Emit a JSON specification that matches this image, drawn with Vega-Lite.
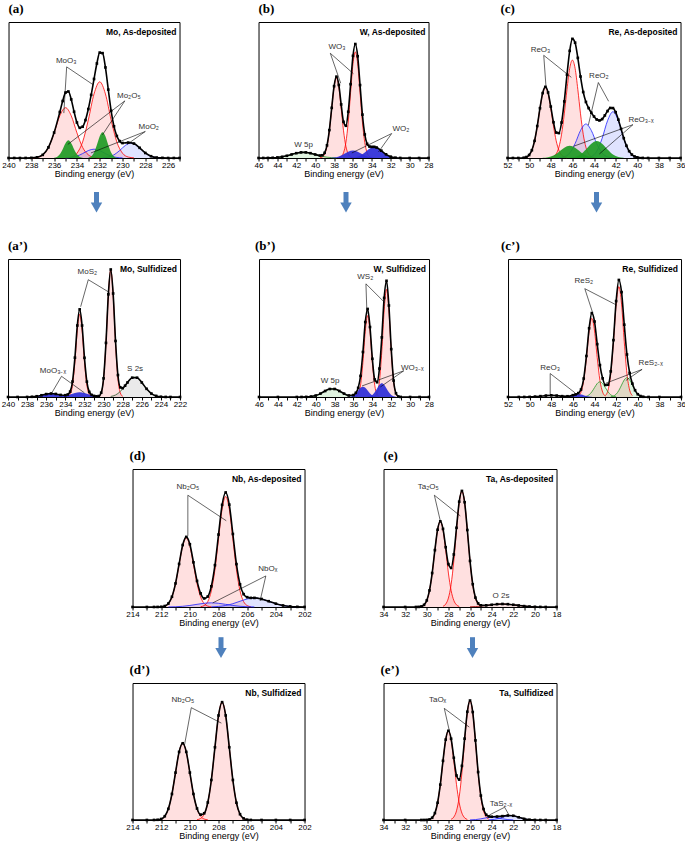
{
"$schema": "https://vega.github.io/schema/vega-lite/v6.json",
"padding": {"top": 2, "left": 0, "right": 0, "bottom": 0},
"spacing": 5,
"center": true,
"datasets": {
"env": [
{"p":"a","x":240,"y":0},{"p":"a","x":239.5,"y":0},{"p":"a","x":239,"y":0},{"p":"a","x":238.5,"y":0.0002},{"p":"a","x":238,"y":0.001},{"p":"a","x":237.5,"y":0.005},{"p":"a","x":237,"y":0.023},{"p":"a","x":236.5,"y":0.078},{"p":"a","x":236,"y":0.187},{"p":"a","x":235.5,"y":0.338},{"p":"a","x":235.25,"y":0.419},{"p":"a","x":235,"y":0.481},{"p":"a","x":234.75,"y":0.489},{"p":"a","x":234.5,"y":0.431},{"p":"a","x":234.25,"y":0.34},{"p":"a","x":234,"y":0.261},{"p":"a","x":233.75,"y":0.222},{"p":"a","x":233.5,"y":0.23},{"p":"a","x":233.25,"y":0.279},{"p":"a","x":233,"y":0.36},{"p":"a","x":232.75,"y":0.464},{"p":"a","x":232.5,"y":0.581},{"p":"a","x":232.25,"y":0.695},{"p":"a","x":232,"y":0.775},{"p":"a","x":231.75,"y":0.771},{"p":"a","x":231.5,"y":0.666},{"p":"a","x":231.25,"y":0.503},{"p":"a","x":231,"y":0.347},{"p":"a","x":230.75,"y":0.233},{"p":"a","x":230.5,"y":0.162},{"p":"a","x":230.25,"y":0.124},{"p":"a","x":230,"y":0.11},{"p":"a","x":229.5,"y":0.113},{"p":"a","x":229,"y":0.106},{"p":"a","x":228.5,"y":0.075},{"p":"a","x":228,"y":0.037},{"p":"a","x":227.5,"y":0.013},{"p":"a","x":227,"y":0.003},{"p":"a","x":226.5,"y":0.001},{"p":"a","x":226,"y":0},{"p":"a","x":225.5,"y":0},{"p":"a","x":225,"y":0},
{"p":"b","x":46,"y":0},{"p":"b","x":45.5,"y":0.0002},{"p":"b","x":45,"y":0.0006},{"p":"b","x":44.5,"y":0.0016},{"p":"b","x":44,"y":0.0041},{"p":"b","x":43.5,"y":0.0088},{"p":"b","x":43,"y":0.0163},{"p":"b","x":42.5,"y":0.026},{"p":"b","x":42,"y":0.0353},{"p":"b","x":41.5,"y":0.0412},{"p":"b","x":41,"y":0.0412},{"p":"b","x":40.5,"y":0.0353},{"p":"b","x":40,"y":0.026},{"p":"b","x":39.5,"y":0.018},{"p":"b","x":39.25,"y":0.02},{"p":"b","x":39,"y":0.038},{"p":"b","x":38.75,"y":0.093},{"p":"b","x":38.5,"y":0.205},{"p":"b","x":38.25,"y":0.369},{"p":"b","x":38,"y":0.528},{"p":"b","x":37.75,"y":0.598},{"p":"b","x":37.5,"y":0.537},{"p":"b","x":37.25,"y":0.394},{"p":"b","x":37,"y":0.266},{"p":"b","x":36.75,"y":0.237},{"p":"b","x":36.5,"y":0.34},{"p":"b","x":36.25,"y":0.543},{"p":"b","x":36,"y":0.751},{"p":"b","x":35.75,"y":0.838},{"p":"b","x":35.5,"y":0.748},{"p":"b","x":35.25,"y":0.536},{"p":"b","x":35,"y":0.319},{"p":"b","x":34.75,"y":0.173},{"p":"b","x":34.5,"y":0.104},{"p":"b","x":34.25,"y":0.084},{"p":"b","x":34,"y":0.082},{"p":"b","x":33.75,"y":0.082},{"p":"b","x":33.5,"y":0.077},{"p":"b","x":33,"y":0.054},{"p":"b","x":32.5,"y":0.027},{"p":"b","x":32,"y":0.0096},{"p":"b","x":31.5,"y":0.0024},{"p":"b","x":31,"y":0.0004},{"p":"b","x":30,"y":0},{"p":"b","x":29,"y":0},{"p":"b","x":28,"y":0},
{"p":"c","x":52,"y":0},{"p":"c","x":51.5,"y":0},{"p":"c","x":51,"y":0.0001},{"p":"c","x":50.5,"y":0.002},{"p":"c","x":50.25,"y":0.007},{"p":"c","x":50,"y":0.022},{"p":"c","x":49.75,"y":0.057},{"p":"c","x":49.5,"y":0.126},{"p":"c","x":49.25,"y":0.235},{"p":"c","x":49,"y":0.366},{"p":"c","x":48.75,"y":0.477},{"p":"c","x":48.5,"y":0.523},{"p":"c","x":48.25,"y":0.482},{"p":"c","x":48,"y":0.378},{"p":"c","x":47.75,"y":0.263},{"p":"c","x":47.5,"y":0.187},{"p":"c","x":47.25,"y":0.183},{"p":"c","x":47,"y":0.261},{"p":"c","x":46.75,"y":0.416},{"p":"c","x":46.5,"y":0.612},{"p":"c","x":46.25,"y":0.788},{"p":"c","x":46,"y":0.876},{"p":"c","x":45.75,"y":0.848},{"p":"c","x":45.5,"y":0.736},{"p":"c","x":45.25,"y":0.599},{"p":"c","x":45,"y":0.485},{"p":"c","x":44.75,"y":0.412},{"p":"c","x":44.5,"y":0.367},{"p":"c","x":44.25,"y":0.333},{"p":"c","x":44,"y":0.305},{"p":"c","x":43.75,"y":0.283},{"p":"c","x":43.5,"y":0.276},{"p":"c","x":43.25,"y":0.286},{"p":"c","x":43,"y":0.313},{"p":"c","x":42.75,"y":0.345},{"p":"c","x":42.5,"y":0.368},{"p":"c","x":42.25,"y":0.367},{"p":"c","x":42,"y":0.337},{"p":"c","x":41.75,"y":0.282},{"p":"c","x":41.5,"y":0.214},{"p":"c","x":41.25,"y":0.146},{"p":"c","x":41,"y":0.09},{"p":"c","x":40.75,"y":0.05},{"p":"c","x":40.5,"y":0.025},{"p":"c","x":40.25,"y":0.011},{"p":"c","x":40,"y":0.0045},{"p":"c","x":39.5,"y":0.0005},{"p":"c","x":39,"y":0},{"p":"c","x":38,"y":0},{"p":"c","x":37,"y":0},{"p":"c","x":36,"y":0},
{"p":"a2","x":240,"y":0},{"p":"a2","x":239,"y":0},{"p":"a2","x":238,"y":0.0003},{"p":"a2","x":237.5,"y":0.0016},{"p":"a2","x":237,"y":0.0053},{"p":"a2","x":236.5,"y":0.0125},{"p":"a2","x":236,"y":0.021},{"p":"a2","x":235.5,"y":0.025},{"p":"a2","x":235,"y":0.022},{"p":"a2","x":234.5,"y":0.015},{"p":"a2","x":234,"y":0.013},{"p":"a2","x":233.75,"y":0.018},{"p":"a2","x":233.5,"y":0.039},{"p":"a2","x":233.25,"y":0.112},{"p":"a2","x":233,"y":0.285},{"p":"a2","x":232.75,"y":0.518},{"p":"a2","x":232.5,"y":0.635},{"p":"a2","x":232.25,"y":0.518},{"p":"a2","x":232,"y":0.284},{"p":"a2","x":231.75,"y":0.111},{"p":"a2","x":231.5,"y":0.037},{"p":"a2","x":231.25,"y":0.015},{"p":"a2","x":231,"y":0.008},{"p":"a2","x":230.75,"y":0.005},{"p":"a2","x":230.5,"y":0.007},{"p":"a2","x":230.25,"y":0.031},{"p":"a2","x":230,"y":0.135},{"p":"a2","x":229.75,"y":0.392},{"p":"a2","x":229.5,"y":0.744},{"p":"a2","x":229.25,"y":0.924},{"p":"a2","x":229,"y":0.75},{"p":"a2","x":228.75,"y":0.406},{"p":"a2","x":228.5,"y":0.159},{"p":"a2","x":228.25,"y":0.07},{"p":"a2","x":228,"y":0.064},{"p":"a2","x":227.75,"y":0.082},{"p":"a2","x":227.5,"y":0.105},{"p":"a2","x":227,"y":0.14},{"p":"a2","x":226.5,"y":0.14},{"p":"a2","x":226,"y":0.105},{"p":"a2","x":225.5,"y":0.0593},{"p":"a2","x":225,"y":0.0251},{"p":"a2","x":224.5,"y":0.008},{"p":"a2","x":224,"y":0.0019},{"p":"a2","x":223.5,"y":0.0004},{"p":"a2","x":223,"y":0},{"p":"a2","x":222,"y":0},
{"p":"b2","x":46,"y":0},{"p":"b2","x":44,"y":0},{"p":"b2","x":42,"y":0},{"p":"b2","x":41.5,"y":0.0001},{"p":"b2","x":41,"y":0.0008},{"p":"b2","x":40.5,"y":0.0033},{"p":"b2","x":40,"y":0.0104},{"p":"b2","x":39.5,"y":0.0245},{"p":"b2","x":39,"y":0.0435},{"p":"b2","x":38.5,"y":0.0579},{"p":"b2","x":38,"y":0.0579},{"p":"b2","x":37.5,"y":0.0435},{"p":"b2","x":37,"y":0.0245},{"p":"b2","x":36.5,"y":0.011},{"p":"b2","x":36,"y":0.014},{"p":"b2","x":35.75,"y":0.03},{"p":"b2","x":35.5,"y":0.066},{"p":"b2","x":35.25,"y":0.153},{"p":"b2","x":35,"y":0.326},{"p":"b2","x":34.75,"y":0.543},{"p":"b2","x":34.5,"y":0.638},{"p":"b2","x":34.25,"y":0.507},{"p":"b2","x":34,"y":0.277},{"p":"b2","x":33.75,"y":0.127},{"p":"b2","x":33.5,"y":0.107},{"p":"b2","x":33.25,"y":0.206},{"p":"b2","x":33,"y":0.432},{"p":"b2","x":32.75,"y":0.718},{"p":"b2","x":32.5,"y":0.842},{"p":"b2","x":32.25,"y":0.663},{"p":"b2","x":32,"y":0.347},{"p":"b2","x":31.75,"y":0.119},{"p":"b2","x":31.5,"y":0.027},{"p":"b2","x":31.25,"y":0.004},{"p":"b2","x":31,"y":0.0004},{"p":"b2","x":30,"y":0},{"p":"b2","x":29,"y":0},{"p":"b2","x":28,"y":0},
{"p":"c2","x":52,"y":0},{"p":"c2","x":51,"y":0},{"p":"c2","x":50.5,"y":0.0002},{"p":"c2","x":50,"y":0.0008},{"p":"c2","x":49.5,"y":0.0025},{"p":"c2","x":49,"y":0.006},{"p":"c2","x":48.5,"y":0.0101},{"p":"c2","x":48,"y":0.012},{"p":"c2","x":47.5,"y":0.0101},{"p":"c2","x":47,"y":0.006},{"p":"c2","x":46.5,"y":0.0054},{"p":"c2","x":46,"y":0.013},{"p":"c2","x":45.75,"y":0.019},{"p":"c2","x":45.5,"y":0.028},{"p":"c2","x":45.25,"y":0.054},{"p":"c2","x":45,"y":0.134},{"p":"c2","x":44.75,"y":0.297},{"p":"c2","x":44.5,"y":0.498},{"p":"c2","x":44.25,"y":0.608},{"p":"c2","x":44,"y":0.547},{"p":"c2","x":43.75,"y":0.383},{"p":"c2","x":43.5,"y":0.231},{"p":"c2","x":43.25,"y":0.135},{"p":"c2","x":43,"y":0.087},{"p":"c2","x":42.75,"y":0.089},{"p":"c2","x":42.5,"y":0.186},{"p":"c2","x":42.25,"y":0.412},{"p":"c2","x":42,"y":0.695},{"p":"c2","x":41.75,"y":0.848},{"p":"c2","x":41.5,"y":0.76},{"p":"c2","x":41.25,"y":0.524},{"p":"c2","x":41,"y":0.308},{"p":"c2","x":40.75,"y":0.174},{"p":"c2","x":40.5,"y":0.097},{"p":"c2","x":40.25,"y":0.049},{"p":"c2","x":40,"y":0.02},{"p":"c2","x":39.75,"y":0.0069},{"p":"c2","x":39.5,"y":0.0018},{"p":"c2","x":39,"y":0},{"p":"c2","x":38,"y":0},{"p":"c2","x":36,"y":0},
{"p":"d","x":214,"y":0},{"p":"d","x":213,"y":0},{"p":"d","x":212.5,"y":0.0001},{"p":"d","x":212.25,"y":0.0003},{"p":"d","x":212,"y":0.0015},{"p":"d","x":211.75,"y":0.007},{"p":"d","x":211.5,"y":0.025},{"p":"d","x":211.25,"y":0.074},{"p":"d","x":211,"y":0.171},{"p":"d","x":210.75,"y":0.312},{"p":"d","x":210.5,"y":0.449},{"p":"d","x":210.25,"y":0.508},{"p":"d","x":210,"y":0.455},{"p":"d","x":209.75,"y":0.324},{"p":"d","x":209.5,"y":0.189},{"p":"d","x":209.25,"y":0.099},{"p":"d","x":209,"y":0.062},{"p":"d","x":208.75,"y":0.076},{"p":"d","x":208.5,"y":0.15},{"p":"d","x":208.25,"y":0.303},{"p":"d","x":208,"y":0.525},{"p":"d","x":207.75,"y":0.74},{"p":"d","x":207.5,"y":0.83},{"p":"d","x":207.25,"y":0.742},{"p":"d","x":207,"y":0.529},{"p":"d","x":206.75,"y":0.311},{"p":"d","x":206.5,"y":0.164},{"p":"d","x":206.25,"y":0.093},{"p":"d","x":206,"y":0.071},{"p":"d","x":205.75,"y":0.066},{"p":"d","x":205.5,"y":0.066},{"p":"d","x":205,"y":0.058},{"p":"d","x":204.5,"y":0.042},{"p":"d","x":204,"y":0.024},{"p":"d","x":203.5,"y":0.011},{"p":"d","x":203,"y":0.0041},{"p":"d","x":202.5,"y":0.0012},{"p":"d","x":202,"y":0.0003},
{"p":"e","x":34,"y":0},{"p":"e","x":32,"y":0},{"p":"e","x":31,"y":0.0002},{"p":"e","x":30.75,"y":0.0009},{"p":"e","x":30.5,"y":0.004},{"p":"e","x":30.25,"y":0.0155},{"p":"e","x":30,"y":0.0477},{"p":"e","x":29.75,"y":0.12},{"p":"e","x":29.5,"y":0.246},{"p":"e","x":29.25,"y":0.412},{"p":"e","x":29,"y":0.56},{"p":"e","x":28.75,"y":0.621},{"p":"e","x":28.5,"y":0.566},{"p":"e","x":28.25,"y":0.433},{"p":"e","x":28,"y":0.311},{"p":"e","x":27.75,"y":0.283},{"p":"e","x":27.5,"y":0.381},{"p":"e","x":27.25,"y":0.574},{"p":"e","x":27,"y":0.763},{"p":"e","x":26.75,"y":0.841},{"p":"e","x":26.5,"y":0.759},{"p":"e","x":26.25,"y":0.558},{"p":"e","x":26,"y":0.334},{"p":"e","x":25.75,"y":0.165},{"p":"e","x":25.5,"y":0.068},{"p":"e","x":25.25,"y":0.026},{"p":"e","x":25,"y":0.012},{"p":"e","x":24.5,"y":0.012},{"p":"e","x":24,"y":0.0162},{"p":"e","x":23.5,"y":0.0204},{"p":"e","x":23,"y":0.022},{"p":"e","x":22.5,"y":0.0204},{"p":"e","x":22,"y":0.0162},{"p":"e","x":21.5,"y":0.011},{"p":"e","x":21,"y":0.0064},{"p":"e","x":20.5,"y":0.0032},{"p":"e","x":20,"y":0.0014},{"p":"e","x":19.5,"y":0.0005},{"p":"e","x":19,"y":0},{"p":"e","x":18,"y":0},
{"p":"d2","x":214,"y":0},{"p":"d2","x":213,"y":0},{"p":"d2","x":212.5,"y":0.0003},{"p":"d2","x":212.25,"y":0.0016},{"p":"d2","x":212,"y":0.0073},{"p":"d2","x":211.75,"y":0.0274},{"p":"d2","x":211.5,"y":0.0818},{"p":"d2","x":211.25,"y":0.19},{"p":"d2","x":211,"y":0.346},{"p":"d2","x":210.75,"y":0.497},{"p":"d2","x":210.5,"y":0.56},{"p":"d2","x":210.25,"y":0.497},{"p":"d2","x":210,"y":0.346},{"p":"d2","x":209.75,"y":0.19},{"p":"d2","x":209.5,"y":0.084},{"p":"d2","x":209.25,"y":0.039},{"p":"d2","x":209,"y":0.049},{"p":"d2","x":208.75,"y":0.128},{"p":"d2","x":208.5,"y":0.292},{"p":"d2","x":208.25,"y":0.531},{"p":"d2","x":208,"y":0.763},{"p":"d2","x":207.75,"y":0.86},{"p":"d2","x":207.5,"y":0.763},{"p":"d2","x":207.25,"y":0.531},{"p":"d2","x":207,"y":0.292},{"p":"d2","x":206.75,"y":0.126},{"p":"d2","x":206.5,"y":0.0421},{"p":"d2","x":206.25,"y":0.0113},{"p":"d2","x":206,"y":0.0024},{"p":"d2","x":205.75,"y":0.0004},{"p":"d2","x":205,"y":0},{"p":"d2","x":204,"y":0},{"p":"d2","x":203,"y":0},{"p":"d2","x":202,"y":0},
{"p":"e2","x":34,"y":0},{"p":"e2","x":32,"y":0},{"p":"e2","x":30.5,"y":0},{"p":"e2","x":30.25,"y":0.0002},{"p":"e2","x":30,"y":0.0009},{"p":"e2","x":29.75,"y":0.0042},{"p":"e2","x":29.5,"y":0.0163},{"p":"e2","x":29.25,"y":0.05},{"p":"e2","x":29,"y":0.126},{"p":"e2","x":28.75,"y":0.258},{"p":"e2","x":28.5,"y":0.432},{"p":"e2","x":28.25,"y":0.587},{"p":"e2","x":28,"y":0.651},{"p":"e2","x":27.75,"y":0.593},{"p":"e2","x":27.5,"y":0.454},{"p":"e2","x":27.25,"y":0.325},{"p":"e2","x":27,"y":0.295},{"p":"e2","x":26.75,"y":0.395},{"p":"e2","x":26.5,"y":0.594},{"p":"e2","x":26.25,"y":0.79},{"p":"e2","x":26,"y":0.872},{"p":"e2","x":25.75,"y":0.788},{"p":"e2","x":25.5,"y":0.581},{"p":"e2","x":25.25,"y":0.35},{"p":"e2","x":25,"y":0.178},{"p":"e2","x":24.75,"y":0.08},{"p":"e2","x":24.5,"y":0.038},{"p":"e2","x":24.25,"y":0.026},{"p":"e2","x":24,"y":0.024},{"p":"e2","x":23.5,"y":0.025},{"p":"e2","x":23,"y":0.028},{"p":"e2","x":22.5,"y":0.033},{"p":"e2","x":22,"y":0.031},{"p":"e2","x":21.5,"y":0.0198},{"p":"e2","x":21,"y":0.0084},{"p":"e2","x":20.5,"y":0.0023},{"p":"e2","x":20,"y":0.0005},{"p":"e2","x":19.5,"y":0},{"p":"e2","x":19,"y":0},{"p":"e2","x":18,"y":0}
],
"cmp": [
{"p":"a","c":"a1","k":"r","x":238,"y":0.0007},{"p":"a","c":"a1","k":"r","x":237.5,"y":0.0048},{"p":"a","c":"a1","k":"r","x":237,"y":0.0231},{"p":"a","c":"a1","k":"r","x":236.5,"y":0.0777},{"p":"a","c":"a1","k":"r","x":236,"y":0.185},{"p":"a","c":"a1","k":"r","x":235.5,"y":0.311},{"p":"a","c":"a1","k":"r","x":235,"y":0.37},{"p":"a","c":"a1","k":"r","x":234.5,"y":0.311},{"p":"a","c":"a1","k":"r","x":234,"y":0.185},{"p":"a","c":"a1","k":"r","x":233.5,"y":0.0777},{"p":"a","c":"a1","k":"r","x":233,"y":0.0231},{"p":"a","c":"a1","k":"r","x":232.5,"y":0.0048},{"p":"a","c":"a1","k":"r","x":232,"y":0.0007},
{"p":"a","c":"a2","k":"r","x":235,"y":0.0011},{"p":"a","c":"a2","k":"r","x":234.5,"y":0.0073},{"p":"a","c":"a2","k":"r","x":234,"y":0.035},{"p":"a","c":"a2","k":"r","x":233.5,"y":0.118},{"p":"a","c":"a2","k":"r","x":233,"y":0.28},{"p":"a","c":"a2","k":"r","x":232.5,"y":0.471},{"p":"a","c":"a2","k":"r","x":232,"y":0.56},{"p":"a","c":"a2","k":"r","x":231.5,"y":0.471},{"p":"a","c":"a2","k":"r","x":231,"y":0.28},{"p":"a","c":"a2","k":"r","x":230.5,"y":0.118},{"p":"a","c":"a2","k":"r","x":230,"y":0.035},{"p":"a","c":"a2","k":"r","x":229.5,"y":0.0073},{"p":"a","c":"a2","k":"r","x":229,"y":0.0011},
{"p":"a","c":"a3","k":"gs","x":236,"y":0.0017},{"p":"a","c":"a3","k":"gs","x":235.75,"y":0.0081},{"p":"a","c":"a3","k":"gs","x":235.5,"y":0.0273},{"p":"a","c":"a3","k":"gs","x":235.25,"y":0.065},{"p":"a","c":"a3","k":"gs","x":235,"y":0.109},{"p":"a","c":"a3","k":"gs","x":234.75,"y":0.13},{"p":"a","c":"a3","k":"gs","x":234.5,"y":0.109},{"p":"a","c":"a3","k":"gs","x":234.25,"y":0.065},{"p":"a","c":"a3","k":"gs","x":234,"y":0.0273},{"p":"a","c":"a3","k":"gs","x":233.75,"y":0.0081},{"p":"a","c":"a3","k":"gs","x":233.5,"y":0.0017},
{"p":"a","c":"a4","k":"gs","x":233,"y":0.0025},{"p":"a","c":"a4","k":"gs","x":232.75,"y":0.0119},{"p":"a","c":"a4","k":"gs","x":232.5,"y":0.04},{"p":"a","c":"a4","k":"gs","x":232.25,"y":0.095},{"p":"a","c":"a4","k":"gs","x":232,"y":0.16},{"p":"a","c":"a4","k":"gs","x":231.75,"y":0.19},{"p":"a","c":"a4","k":"gs","x":231.5,"y":0.16},{"p":"a","c":"a4","k":"gs","x":231.25,"y":0.095},{"p":"a","c":"a4","k":"gs","x":231,"y":0.04},{"p":"a","c":"a4","k":"gs","x":230.75,"y":0.0119},{"p":"a","c":"a4","k":"gs","x":230.5,"y":0.0025},
{"p":"a","c":"a5","k":"bh","x":235,"y":0.0009},{"p":"a","c":"a5","k":"bh","x":234.5,"y":0.0041},{"p":"a","c":"a5","k":"bh","x":234,"y":0.0137},{"p":"a","c":"a5","k":"bh","x":233.5,"y":0.0325},{"p":"a","c":"a5","k":"bh","x":233,"y":0.0547},{"p":"a","c":"a5","k":"bh","x":232.5,"y":0.065},{"p":"a","c":"a5","k":"bh","x":232,"y":0.0547},{"p":"a","c":"a5","k":"bh","x":231.5,"y":0.0325},{"p":"a","c":"a5","k":"bh","x":231,"y":0.0137},{"p":"a","c":"a5","k":"bh","x":230.5,"y":0.0041},{"p":"a","c":"a5","k":"bh","x":230,"y":0.0009},
{"p":"a","c":"a6","k":"bh","x":231.75,"y":0.0014},{"p":"a","c":"a6","k":"bh","x":231.25,"y":0.0069},{"p":"a","c":"a6","k":"bh","x":230.75,"y":0.0231},{"p":"a","c":"a6","k":"bh","x":230.25,"y":0.055},{"p":"a","c":"a6","k":"bh","x":229.75,"y":0.0925},{"p":"a","c":"a6","k":"bh","x":229.25,"y":0.11},{"p":"a","c":"a6","k":"bh","x":228.75,"y":0.0925},{"p":"a","c":"a6","k":"bh","x":228.25,"y":0.055},{"p":"a","c":"a6","k":"bh","x":227.75,"y":0.0231},{"p":"a","c":"a6","k":"bh","x":227.25,"y":0.0069},{"p":"a","c":"a6","k":"bh","x":226.75,"y":0.0014},
{"p":"b","c":"b1","k":"r","x":39.5,"y":0.0017},{"p":"b","c":"b1","k":"r","x":39.25,"y":0.0077},{"p":"b","c":"b1","k":"r","x":39,"y":0.0289},{"p":"b","c":"b1","k":"r","x":38.75,"y":0.0861},{"p":"b","c":"b1","k":"r","x":38.5,"y":0.2},{"p":"b","c":"b1","k":"r","x":38.25,"y":0.365},{"p":"b","c":"b1","k":"r","x":38,"y":0.523},{"p":"b","c":"b1","k":"r","x":37.75,"y":0.59},{"p":"b","c":"b1","k":"r","x":37.5,"y":0.523},{"p":"b","c":"b1","k":"r","x":37.25,"y":0.365},{"p":"b","c":"b1","k":"r","x":37,"y":0.2},{"p":"b","c":"b1","k":"r","x":36.75,"y":0.0861},{"p":"b","c":"b1","k":"r","x":36.5,"y":0.0289},{"p":"b","c":"b1","k":"r","x":36.25,"y":0.0077},{"p":"b","c":"b1","k":"r","x":36,"y":0.0017},
{"p":"b","c":"b2","k":"r","x":37.5,"y":0.0022},{"p":"b","c":"b2","k":"r","x":37.25,"y":0.0102},{"p":"b","c":"b2","k":"r","x":37,"y":0.0382},{"p":"b","c":"b2","k":"r","x":36.75,"y":0.114},{"p":"b","c":"b2","k":"r","x":36.5,"y":0.264},{"p":"b","c":"b2","k":"r","x":36.25,"y":0.482},{"p":"b","c":"b2","k":"r","x":36,"y":0.692},{"p":"b","c":"b2","k":"r","x":35.75,"y":0.78},{"p":"b","c":"b2","k":"r","x":35.5,"y":0.692},{"p":"b","c":"b2","k":"r","x":35.25,"y":0.482},{"p":"b","c":"b2","k":"r","x":35,"y":0.264},{"p":"b","c":"b2","k":"r","x":34.75,"y":0.114},{"p":"b","c":"b2","k":"r","x":34.5,"y":0.0382},{"p":"b","c":"b2","k":"r","x":34.25,"y":0.0102},{"p":"b","c":"b2","k":"r","x":34,"y":0.0022},
{"p":"b","c":"b3","k":"bs","x":38.5,"y":0.0007},{"p":"b","c":"b3","k":"bs","x":38,"y":0.0034},{"p":"b","c":"b3","k":"bs","x":37.5,"y":0.0116},{"p":"b","c":"b3","k":"bs","x":37,"y":0.0275},{"p":"b","c":"b3","k":"bs","x":36.5,"y":0.0463},{"p":"b","c":"b3","k":"bs","x":36,"y":0.055},{"p":"b","c":"b3","k":"bs","x":35.5,"y":0.0463},{"p":"b","c":"b3","k":"bs","x":35,"y":0.0275},{"p":"b","c":"b3","k":"bs","x":34.5,"y":0.0116},{"p":"b","c":"b3","k":"bs","x":34,"y":0.0034},{"p":"b","c":"b3","k":"bs","x":33.5,"y":0.0007},
{"p":"b","c":"b4","k":"bs","x":36.25,"y":0.001},{"p":"b","c":"b4","k":"bs","x":35.75,"y":0.005},{"p":"b","c":"b4","k":"bs","x":35.25,"y":0.0168},{"p":"b","c":"b4","k":"bs","x":34.75,"y":0.04},{"p":"b","c":"b4","k":"bs","x":34.25,"y":0.0673},{"p":"b","c":"b4","k":"bs","x":33.75,"y":0.08},{"p":"b","c":"b4","k":"bs","x":33.25,"y":0.0673},{"p":"b","c":"b4","k":"bs","x":32.75,"y":0.04},{"p":"b","c":"b4","k":"bs","x":32.25,"y":0.0168},{"p":"b","c":"b4","k":"bs","x":31.75,"y":0.005},{"p":"b","c":"b4","k":"bs","x":31.25,"y":0.001},
{"p":"b","c":"b5","k":"gh","x":44.75,"y":0.001},{"p":"b","c":"b5","k":"gh","x":44.25,"y":0.0026},{"p":"b","c":"b5","k":"gh","x":43.75,"y":0.0061},{"p":"b","c":"b5","k":"gh","x":43.25,"y":0.0123},{"p":"b","c":"b5","k":"gh","x":42.75,"y":0.021},{"p":"b","c":"b5","k":"gh","x":42.25,"y":0.0309},{"p":"b","c":"b5","k":"gh","x":41.75,"y":0.0389},{"p":"b","c":"b5","k":"gh","x":41.25,"y":0.042},{"p":"b","c":"b5","k":"gh","x":40.75,"y":0.0389},{"p":"b","c":"b5","k":"gh","x":40.25,"y":0.0309},{"p":"b","c":"b5","k":"gh","x":39.75,"y":0.021},{"p":"b","c":"b5","k":"gh","x":39.25,"y":0.0123},{"p":"b","c":"b5","k":"gh","x":38.75,"y":0.0061},{"p":"b","c":"b5","k":"gh","x":38.25,"y":0.0026},{"p":"b","c":"b5","k":"gh","x":37.75,"y":0.001},
{"p":"c","c":"c1","k":"r","x":50.5,"y":0.0018},{"p":"c","c":"c1","k":"r","x":50.25,"y":0.0068},{"p":"c","c":"c1","k":"r","x":50,"y":0.0216},{"p":"c","c":"c1","k":"r","x":49.75,"y":0.0572},{"p":"c","c":"c1","k":"r","x":49.5,"y":0.1264},{"p":"c","c":"c1","k":"r","x":49.25,"y":0.2345},{"p":"c","c":"c1","k":"r","x":49,"y":0.365},{"p":"c","c":"c1","k":"r","x":48.75,"y":0.476},{"p":"c","c":"c1","k":"r","x":48.5,"y":0.52},{"p":"c","c":"c1","k":"r","x":48.25,"y":0.476},{"p":"c","c":"c1","k":"r","x":48,"y":0.365},{"p":"c","c":"c1","k":"r","x":47.75,"y":0.2345},{"p":"c","c":"c1","k":"r","x":47.5,"y":0.1264},{"p":"c","c":"c1","k":"r","x":47.25,"y":0.0572},{"p":"c","c":"c1","k":"r","x":47,"y":0.0216},{"p":"c","c":"c1","k":"r","x":46.75,"y":0.0068},{"p":"c","c":"c1","k":"r","x":46.5,"y":0.0018},
{"p":"c","c":"c2","k":"r","x":48,"y":0.0025},{"p":"c","c":"c2","k":"r","x":47.75,"y":0.0094},{"p":"c","c":"c2","k":"r","x":47.5,"y":0.0299},{"p":"c","c":"c2","k":"r","x":47.25,"y":0.0792},{"p":"c","c":"c2","k":"r","x":47,"y":0.175},{"p":"c","c":"c2","k":"r","x":46.75,"y":0.325},{"p":"c","c":"c2","k":"r","x":46.5,"y":0.505},{"p":"c","c":"c2","k":"r","x":46.25,"y":0.659},{"p":"c","c":"c2","k":"r","x":46,"y":0.72},{"p":"c","c":"c2","k":"r","x":45.75,"y":0.659},{"p":"c","c":"c2","k":"r","x":45.5,"y":0.505},{"p":"c","c":"c2","k":"r","x":45.25,"y":0.325},{"p":"c","c":"c2","k":"r","x":45,"y":0.175},{"p":"c","c":"c2","k":"r","x":44.75,"y":0.0792},{"p":"c","c":"c2","k":"r","x":44.5,"y":0.0299},{"p":"c","c":"c2","k":"r","x":44.25,"y":0.0094},{"p":"c","c":"c2","k":"r","x":44,"y":0.0025},
{"p":"c","c":"c3","k":"bh","x":47.25,"y":0.0012},{"p":"c","c":"c3","k":"bh","x":46.75,"y":0.0082},{"p":"c","c":"c3","k":"bh","x":46.25,"y":0.0365},{"p":"c","c":"c3","k":"bh","x":45.75,"y":0.106},{"p":"c","c":"c3","k":"bh","x":45.25,"y":0.202},{"p":"c","c":"c3","k":"bh","x":44.75,"y":0.25},{"p":"c","c":"c3","k":"bh","x":44.25,"y":0.202},{"p":"c","c":"c3","k":"bh","x":43.75,"y":0.106},{"p":"c","c":"c3","k":"bh","x":43.25,"y":0.0365},{"p":"c","c":"c3","k":"bh","x":42.75,"y":0.0082},{"p":"c","c":"c3","k":"bh","x":42.25,"y":0.0012},
{"p":"c","c":"c4","k":"bh","x":44.75,"y":0.0016},{"p":"c","c":"c4","k":"bh","x":44.25,"y":0.0111},{"p":"c","c":"c4","k":"bh","x":43.75,"y":0.0496},{"p":"c","c":"c4","k":"bh","x":43.25,"y":0.1445},{"p":"c","c":"c4","k":"bh","x":42.75,"y":0.274},{"p":"c","c":"c4","k":"bh","x":42.25,"y":0.34},{"p":"c","c":"c4","k":"bh","x":41.75,"y":0.274},{"p":"c","c":"c4","k":"bh","x":41.25,"y":0.1445},{"p":"c","c":"c4","k":"bh","x":40.75,"y":0.0496},{"p":"c","c":"c4","k":"bh","x":40.25,"y":0.0111},{"p":"c","c":"c4","k":"bh","x":39.75,"y":0.0016},
{"p":"c","c":"c5","k":"gs","x":48.75,"y":0.0012},{"p":"c","c":"c5","k":"gs","x":48.25,"y":0.0056},{"p":"c","c":"c5","k":"gs","x":47.75,"y":0.0189},{"p":"c","c":"c5","k":"gs","x":47.25,"y":0.045},{"p":"c","c":"c5","k":"gs","x":46.75,"y":0.0757},{"p":"c","c":"c5","k":"gs","x":46.25,"y":0.09},{"p":"c","c":"c5","k":"gs","x":45.75,"y":0.0757},{"p":"c","c":"c5","k":"gs","x":45.25,"y":0.045},{"p":"c","c":"c5","k":"gs","x":44.75,"y":0.0189},{"p":"c","c":"c5","k":"gs","x":44.25,"y":0.0056},{"p":"c","c":"c5","k":"gs","x":43.75,"y":0.0012},
{"p":"c","c":"c6","k":"gs","x":46.25,"y":0.0016},{"p":"c","c":"c6","k":"gs","x":45.75,"y":0.0078},{"p":"c","c":"c6","k":"gs","x":45.25,"y":0.0263},{"p":"c","c":"c6","k":"gs","x":44.75,"y":0.0625},{"p":"c","c":"c6","k":"gs","x":44.25,"y":0.105},{"p":"c","c":"c6","k":"gs","x":43.75,"y":0.125},{"p":"c","c":"c6","k":"gs","x":43.25,"y":0.105},{"p":"c","c":"c6","k":"gs","x":42.75,"y":0.0625},{"p":"c","c":"c6","k":"gs","x":42.25,"y":0.0263},{"p":"c","c":"c6","k":"gs","x":41.75,"y":0.0078},{"p":"c","c":"c6","k":"gs","x":41.25,"y":0.0016},
{"p":"a2","c":"m1","k":"r","x":233.75,"y":0.0028},{"p":"a2","c":"m1","k":"r","x":233.5,"y":0.0196},{"p":"a2","c":"m1","k":"r","x":233.25,"y":0.0876},{"p":"a2","c":"m1","k":"r","x":233,"y":0.255},{"p":"a2","c":"m1","k":"r","x":232.75,"y":0.484},{"p":"a2","c":"m1","k":"r","x":232.5,"y":0.6},{"p":"a2","c":"m1","k":"r","x":232.25,"y":0.484},{"p":"a2","c":"m1","k":"r","x":232,"y":0.255},{"p":"a2","c":"m1","k":"r","x":231.75,"y":0.0876},{"p":"a2","c":"m1","k":"r","x":231.5,"y":0.0196},{"p":"a2","c":"m1","k":"r","x":231.25,"y":0.0028},
{"p":"a2","c":"m2","k":"r","x":230.5,"y":0.0043},{"p":"a2","c":"m2","k":"r","x":230.25,"y":0.03},{"p":"a2","c":"m2","k":"r","x":230,"y":0.134},{"p":"a2","c":"m2","k":"r","x":229.75,"y":0.391},{"p":"a2","c":"m2","k":"r","x":229.5,"y":0.742},{"p":"a2","c":"m2","k":"r","x":229.25,"y":0.92},{"p":"a2","c":"m2","k":"r","x":229,"y":0.742},{"p":"a2","c":"m2","k":"r","x":228.75,"y":0.391},{"p":"a2","c":"m2","k":"r","x":228.5,"y":0.134},{"p":"a2","c":"m2","k":"r","x":228.25,"y":0.03},{"p":"a2","c":"m2","k":"r","x":228,"y":0.0043},
{"p":"a2","c":"m3","k":"bs","x":237.5,"y":0.0016},{"p":"a2","c":"m3","k":"bs","x":237,"y":0.0053},{"p":"a2","c":"m3","k":"bs","x":236.5,"y":0.0125},{"p":"a2","c":"m3","k":"bs","x":236,"y":0.021},{"p":"a2","c":"m3","k":"bs","x":235.5,"y":0.025},{"p":"a2","c":"m3","k":"bs","x":235,"y":0.021},{"p":"a2","c":"m3","k":"bs","x":234.5,"y":0.0125},{"p":"a2","c":"m3","k":"bs","x":234,"y":0.0053},{"p":"a2","c":"m3","k":"bs","x":233.5,"y":0.0016},
{"p":"a2","c":"m4","k":"bs","x":234.5,"y":0.0022},{"p":"a2","c":"m4","k":"bs","x":234,"y":0.0074},{"p":"a2","c":"m4","k":"bs","x":233.5,"y":0.0175},{"p":"a2","c":"m4","k":"bs","x":233,"y":0.0294},{"p":"a2","c":"m4","k":"bs","x":232.5,"y":0.035},{"p":"a2","c":"m4","k":"bs","x":232,"y":0.0294},{"p":"a2","c":"m4","k":"bs","x":231.5,"y":0.0175},{"p":"a2","c":"m4","k":"bs","x":231,"y":0.0074},{"p":"a2","c":"m4","k":"bs","x":230.5,"y":0.0022},
{"p":"a2","c":"m5","k":"kh","x":229.25,"y":0.004},{"p":"a2","c":"m5","k":"kh","x":228.75,"y":0.0146},{"p":"a2","c":"m5","k":"kh","x":228.25,"y":0.04},{"p":"a2","c":"m5","k":"kh","x":227.75,"y":0.0818},{"p":"a2","c":"m5","k":"kh","x":227.25,"y":0.126},{"p":"a2","c":"m5","k":"kh","x":226.75,"y":0.145},{"p":"a2","c":"m5","k":"kh","x":226.25,"y":0.126},{"p":"a2","c":"m5","k":"kh","x":225.75,"y":0.0818},{"p":"a2","c":"m5","k":"kh","x":225.25,"y":0.04},{"p":"a2","c":"m5","k":"kh","x":224.75,"y":0.0146},{"p":"a2","c":"m5","k":"kh","x":224.25,"y":0.004},
{"p":"b2","c":"w1","k":"r","x":35.75,"y":0.0028},{"p":"b2","c":"w1","k":"r","x":35.5,"y":0.0192},{"p":"b2","c":"w1","k":"r","x":35.25,"y":0.0861},{"p":"b2","c":"w1","k":"r","x":35,"y":0.251},{"p":"b2","c":"w1","k":"r","x":34.75,"y":0.476},{"p":"b2","c":"w1","k":"r","x":34.5,"y":0.59},{"p":"b2","c":"w1","k":"r","x":34.25,"y":0.476},{"p":"b2","c":"w1","k":"r","x":34,"y":0.251},{"p":"b2","c":"w1","k":"r","x":33.75,"y":0.0861},{"p":"b2","c":"w1","k":"r","x":33.5,"y":0.0192},{"p":"b2","c":"w1","k":"r","x":33.25,"y":0.0028},
{"p":"b2","c":"w2","k":"r","x":33.75,"y":0.0037},{"p":"b2","c":"w2","k":"r","x":33.5,"y":0.0254},{"p":"b2","c":"w2","k":"r","x":33.25,"y":0.114},{"p":"b2","c":"w2","k":"r","x":33,"y":0.332},{"p":"b2","c":"w2","k":"r","x":32.75,"y":0.629},{"p":"b2","c":"w2","k":"r","x":32.5,"y":0.78},{"p":"b2","c":"w2","k":"r","x":32.25,"y":0.629},{"p":"b2","c":"w2","k":"r","x":32,"y":0.332},{"p":"b2","c":"w2","k":"r","x":31.75,"y":0.114},{"p":"b2","c":"w2","k":"r","x":31.5,"y":0.0254},{"p":"b2","c":"w2","k":"r","x":31.25,"y":0.0037},
{"p":"b2","c":"w3","k":"bs","x":36.5,"y":0.001},{"p":"b2","c":"w3","k":"bs","x":36.25,"y":0.0037},{"p":"b2","c":"w3","k":"bs","x":36,"y":0.011},{"p":"b2","c":"w3","k":"bs","x":35.75,"y":0.0254},{"p":"b2","c":"w3","k":"bs","x":35.5,"y":0.0464},{"p":"b2","c":"w3","k":"bs","x":35.25,"y":0.0665},{"p":"b2","c":"w3","k":"bs","x":35,"y":0.075},{"p":"b2","c":"w3","k":"bs","x":34.75,"y":0.0665},{"p":"b2","c":"w3","k":"bs","x":34.5,"y":0.0464},{"p":"b2","c":"w3","k":"bs","x":34.25,"y":0.0254},{"p":"b2","c":"w3","k":"bs","x":34,"y":0.011},{"p":"b2","c":"w3","k":"bs","x":33.75,"y":0.0037},{"p":"b2","c":"w3","k":"bs","x":33.5,"y":0.001},
{"p":"b2","c":"w4","k":"bs","x":34.5,"y":0.0013},{"p":"b2","c":"w4","k":"bs","x":34.25,"y":0.0049},{"p":"b2","c":"w4","k":"bs","x":34,"y":0.0146},{"p":"b2","c":"w4","k":"bs","x":33.75,"y":0.0339},{"p":"b2","c":"w4","k":"bs","x":33.5,"y":0.0618},{"p":"b2","c":"w4","k":"bs","x":33.25,"y":0.0887},{"p":"b2","c":"w4","k":"bs","x":33,"y":0.1},{"p":"b2","c":"w4","k":"bs","x":32.75,"y":0.0887},{"p":"b2","c":"w4","k":"bs","x":32.5,"y":0.0618},{"p":"b2","c":"w4","k":"bs","x":32.25,"y":0.0339},{"p":"b2","c":"w4","k":"bs","x":32,"y":0.0146},{"p":"b2","c":"w4","k":"bs","x":31.75,"y":0.0049},{"p":"b2","c":"w4","k":"bs","x":31.5,"y":0.0013},
{"p":"b2","c":"w5","k":"gh","x":40.75,"y":0.0017},{"p":"b2","c":"w5","k":"gh","x":40.25,"y":0.0061},{"p":"b2","c":"w5","k":"gh","x":39.75,"y":0.0166},{"p":"b2","c":"w5","k":"gh","x":39.25,"y":0.0338},{"p":"b2","c":"w5","k":"gh","x":38.75,"y":0.052},{"p":"b2","c":"w5","k":"gh","x":38.25,"y":0.06},{"p":"b2","c":"w5","k":"gh","x":37.75,"y":0.052},{"p":"b2","c":"w5","k":"gh","x":37.25,"y":0.0338},{"p":"b2","c":"w5","k":"gh","x":36.75,"y":0.0166},{"p":"b2","c":"w5","k":"gh","x":36.25,"y":0.0061},{"p":"b2","c":"w5","k":"gh","x":35.75,"y":0.0017},
{"p":"c2","c":"r1","k":"r","x":45.5,"y":0.0075},{"p":"c2","c":"r1","k":"r","x":45.25,"y":0.0356},{"p":"c2","c":"r1","k":"r","x":45,"y":0.12},{"p":"c2","c":"r1","k":"r","x":44.75,"y":0.285},{"p":"c2","c":"r1","k":"r","x":44.5,"y":0.479},{"p":"c2","c":"r1","k":"r","x":44.25,"y":0.57},{"p":"c2","c":"r1","k":"r","x":44,"y":0.479},{"p":"c2","c":"r1","k":"r","x":43.75,"y":0.285},{"p":"c2","c":"r1","k":"r","x":43.5,"y":0.12},{"p":"c2","c":"r1","k":"r","x":43.25,"y":0.0356},{"p":"c2","c":"r1","k":"r","x":43,"y":0.0075},
{"p":"c2","c":"r2","k":"r","x":43,"y":0.0105},{"p":"c2","c":"r2","k":"r","x":42.75,"y":0.05},{"p":"c2","c":"r2","k":"r","x":42.5,"y":0.168},{"p":"c2","c":"r2","k":"r","x":42.25,"y":0.4},{"p":"c2","c":"r2","k":"r","x":42,"y":0.673},{"p":"c2","c":"r2","k":"r","x":41.75,"y":0.8},{"p":"c2","c":"r2","k":"r","x":41.5,"y":0.673},{"p":"c2","c":"r2","k":"r","x":41.25,"y":0.4},{"p":"c2","c":"r2","k":"r","x":41,"y":0.168},{"p":"c2","c":"r2","k":"r","x":40.75,"y":0.05},{"p":"c2","c":"r2","k":"r","x":40.5,"y":0.0105},
{"p":"c2","c":"r3","k":"gh","x":45,"y":0.0014},{"p":"c2","c":"r3","k":"gh","x":44.75,"y":0.0054},{"p":"c2","c":"r3","k":"gh","x":44.5,"y":0.0161},{"p":"c2","c":"r3","k":"gh","x":44.25,"y":0.0373},{"p":"c2","c":"r3","k":"gh","x":44,"y":0.068},{"p":"c2","c":"r3","k":"gh","x":43.75,"y":0.0976},{"p":"c2","c":"r3","k":"gh","x":43.5,"y":0.11},{"p":"c2","c":"r3","k":"gh","x":43.25,"y":0.0976},{"p":"c2","c":"r3","k":"gh","x":43,"y":0.068},{"p":"c2","c":"r3","k":"gh","x":42.75,"y":0.0373},{"p":"c2","c":"r3","k":"gh","x":42.5,"y":0.0161},{"p":"c2","c":"r3","k":"gh","x":42.25,"y":0.0054},{"p":"c2","c":"r3","k":"gh","x":42,"y":0.0014},
{"p":"c2","c":"r4","k":"gh","x":42.5,"y":0.0018},{"p":"c2","c":"r4","k":"gh","x":42.25,"y":0.0069},{"p":"c2","c":"r4","k":"gh","x":42,"y":0.0204},{"p":"c2","c":"r4","k":"gh","x":41.75,"y":0.0475},{"p":"c2","c":"r4","k":"gh","x":41.5,"y":0.0865},{"p":"c2","c":"r4","k":"gh","x":41.25,"y":0.124},{"p":"c2","c":"r4","k":"gh","x":41,"y":0.14},{"p":"c2","c":"r4","k":"gh","x":40.75,"y":0.124},{"p":"c2","c":"r4","k":"gh","x":40.5,"y":0.0865},{"p":"c2","c":"r4","k":"gh","x":40.25,"y":0.0475},{"p":"c2","c":"r4","k":"gh","x":40,"y":0.0204},{"p":"c2","c":"r4","k":"gh","x":39.75,"y":0.0069},{"p":"c2","c":"r4","k":"gh","x":39.5,"y":0.0018},
{"p":"c2","c":"r5","k":"bs","x":46.75,"y":0.001},{"p":"c2","c":"r5","k":"bs","x":46.5,"y":0.0029},{"p":"c2","c":"r5","k":"bs","x":46.25,"y":0.0068},{"p":"c2","c":"r5","k":"bs","x":46,"y":0.0124},{"p":"c2","c":"r5","k":"bs","x":45.75,"y":0.0177},{"p":"c2","c":"r5","k":"bs","x":45.5,"y":0.02},{"p":"c2","c":"r5","k":"bs","x":45.25,"y":0.0177},{"p":"c2","c":"r5","k":"bs","x":45,"y":0.0124},{"p":"c2","c":"r5","k":"bs","x":44.75,"y":0.0068},{"p":"c2","c":"r5","k":"bs","x":44.5,"y":0.0029},{"p":"c2","c":"r5","k":"bs","x":44.25,"y":0.001},
{"p":"d","c":"n1","k":"r","x":212,"y":0.0014},{"p":"d","c":"n1","k":"r","x":211.75,"y":0.0066},{"p":"d","c":"n1","k":"r","x":211.5,"y":0.0245},{"p":"d","c":"n1","k":"r","x":211.25,"y":0.073},{"p":"d","c":"n1","k":"r","x":211,"y":0.1695},{"p":"d","c":"n1","k":"r","x":210.75,"y":0.309},{"p":"d","c":"n1","k":"r","x":210.5,"y":0.4435},{"p":"d","c":"n1","k":"r","x":210.25,"y":0.5},{"p":"d","c":"n1","k":"r","x":210,"y":0.4435},{"p":"d","c":"n1","k":"r","x":209.75,"y":0.309},{"p":"d","c":"n1","k":"r","x":209.5,"y":0.1695},{"p":"d","c":"n1","k":"r","x":209.25,"y":0.073},{"p":"d","c":"n1","k":"r","x":209,"y":0.0245},{"p":"d","c":"n1","k":"r","x":208.75,"y":0.0066},{"p":"d","c":"n1","k":"r","x":208.5,"y":0.0014},
{"p":"d","c":"n2","k":"r","x":209.25,"y":0.0022},{"p":"d","c":"n2","k":"r","x":209,"y":0.0105},{"p":"d","c":"n2","k":"r","x":208.75,"y":0.0392},{"p":"d","c":"n2","k":"r","x":208.5,"y":0.117},{"p":"d","c":"n2","k":"r","x":208.25,"y":0.271},{"p":"d","c":"n2","k":"r","x":208,"y":0.494},{"p":"d","c":"n2","k":"r","x":207.75,"y":0.71},{"p":"d","c":"n2","k":"r","x":207.5,"y":0.8},{"p":"d","c":"n2","k":"r","x":207.25,"y":0.71},{"p":"d","c":"n2","k":"r","x":207,"y":0.494},{"p":"d","c":"n2","k":"r","x":206.75,"y":0.271},{"p":"d","c":"n2","k":"r","x":206.5,"y":0.117},{"p":"d","c":"n2","k":"r","x":206.25,"y":0.0392},{"p":"d","c":"n2","k":"r","x":206,"y":0.0105},{"p":"d","c":"n2","k":"r","x":205.75,"y":0.0022},
{"p":"d","c":"n3","k":"bh","x":211.5,"y":0.0006},{"p":"d","c":"n3","k":"bh","x":211,"y":0.0019},{"p":"d","c":"n3","k":"bh","x":210.5,"y":0.0051},{"p":"d","c":"n3","k":"bh","x":210,"y":0.0111},{"p":"d","c":"n3","k":"bh","x":209.5,"y":0.0193},{"p":"d","c":"n3","k":"bh","x":209,"y":0.0269},{"p":"d","c":"n3","k":"bh","x":208.5,"y":0.03},{"p":"d","c":"n3","k":"bh","x":208,"y":0.0269},{"p":"d","c":"n3","k":"bh","x":207.5,"y":0.0193},{"p":"d","c":"n3","k":"bh","x":207,"y":0.0111},{"p":"d","c":"n3","k":"bh","x":206.5,"y":0.0051},{"p":"d","c":"n3","k":"bh","x":206,"y":0.0019},{"p":"d","c":"n3","k":"bh","x":205.5,"y":0.0006},
{"p":"d","c":"n4","k":"bh","x":208.5,"y":0.0012},{"p":"d","c":"n4","k":"bh","x":208,"y":0.0041},{"p":"d","c":"n4","k":"bh","x":207.5,"y":0.011},{"p":"d","c":"n4","k":"bh","x":207,"y":0.024},{"p":"d","c":"n4","k":"bh","x":206.5,"y":0.0417},{"p":"d","c":"n4","k":"bh","x":206,"y":0.0582},{"p":"d","c":"n4","k":"bh","x":205.5,"y":0.065},{"p":"d","c":"n4","k":"bh","x":205,"y":0.0582},{"p":"d","c":"n4","k":"bh","x":204.5,"y":0.0417},{"p":"d","c":"n4","k":"bh","x":204,"y":0.024},{"p":"d","c":"n4","k":"bh","x":203.5,"y":0.011},{"p":"d","c":"n4","k":"bh","x":203,"y":0.0041},{"p":"d","c":"n4","k":"bh","x":202.5,"y":0.0012},
{"p":"e","c":"t1","k":"r","x":30.5,"y":0.004},{"p":"e","c":"t1","k":"r","x":30.25,"y":0.0155},{"p":"e","c":"t1","k":"r","x":30,"y":0.0477},{"p":"e","c":"t1","k":"r","x":29.75,"y":0.12},{"p":"e","c":"t1","k":"r","x":29.5,"y":0.246},{"p":"e","c":"t1","k":"r","x":29.25,"y":0.412},{"p":"e","c":"t1","k":"r","x":29,"y":0.56},{"p":"e","c":"t1","k":"r","x":28.75,"y":0.62},{"p":"e","c":"t1","k":"r","x":28.5,"y":0.56},{"p":"e","c":"t1","k":"r","x":28.25,"y":0.412},{"p":"e","c":"t1","k":"r","x":28,"y":0.246},{"p":"e","c":"t1","k":"r","x":27.75,"y":0.12},{"p":"e","c":"t1","k":"r","x":27.5,"y":0.0477},{"p":"e","c":"t1","k":"r","x":27.25,"y":0.0155},{"p":"e","c":"t1","k":"r","x":27,"y":0.004},
{"p":"e","c":"t2","k":"r","x":28.5,"y":0.0055},{"p":"e","c":"t2","k":"r","x":28.25,"y":0.021},{"p":"e","c":"t2","k":"r","x":28,"y":0.0647},{"p":"e","c":"t2","k":"r","x":27.75,"y":0.163},{"p":"e","c":"t2","k":"r","x":27.5,"y":0.333},{"p":"e","c":"t2","k":"r","x":27.25,"y":0.558},{"p":"e","c":"t2","k":"r","x":27,"y":0.759},{"p":"e","c":"t2","k":"r","x":26.75,"y":0.84},{"p":"e","c":"t2","k":"r","x":26.5,"y":0.759},{"p":"e","c":"t2","k":"r","x":26.25,"y":0.558},{"p":"e","c":"t2","k":"r","x":26,"y":0.333},{"p":"e","c":"t2","k":"r","x":25.75,"y":0.163},{"p":"e","c":"t2","k":"r","x":25.5,"y":0.0647},{"p":"e","c":"t2","k":"r","x":25.25,"y":0.021},{"p":"e","c":"t2","k":"r","x":25,"y":0.0055},
{"p":"e","c":"t3","k":"o","x":26,"y":0.0014},{"p":"e","c":"t3","k":"o","x":25.5,"y":0.0032},{"p":"e","c":"t3","k":"o","x":25,"y":0.0064},{"p":"e","c":"t3","k":"o","x":24.5,"y":0.011},{"p":"e","c":"t3","k":"o","x":24,"y":0.0162},{"p":"e","c":"t3","k":"o","x":23.5,"y":0.0204},{"p":"e","c":"t3","k":"o","x":23,"y":0.022},{"p":"e","c":"t3","k":"o","x":22.5,"y":0.0204},{"p":"e","c":"t3","k":"o","x":22,"y":0.0162},{"p":"e","c":"t3","k":"o","x":21.5,"y":0.011},{"p":"e","c":"t3","k":"o","x":21,"y":0.0064},{"p":"e","c":"t3","k":"o","x":20.5,"y":0.0032},{"p":"e","c":"t3","k":"o","x":20,"y":0.0014},
{"p":"d2","c":"q1","k":"r","x":212.25,"y":0.0016},{"p":"d2","c":"q1","k":"r","x":212,"y":0.0073},{"p":"d2","c":"q1","k":"r","x":211.75,"y":0.0274},{"p":"d2","c":"q1","k":"r","x":211.5,"y":0.0818},{"p":"d2","c":"q1","k":"r","x":211.25,"y":0.19},{"p":"d2","c":"q1","k":"r","x":211,"y":0.346},{"p":"d2","c":"q1","k":"r","x":210.75,"y":0.497},{"p":"d2","c":"q1","k":"r","x":210.5,"y":0.56},{"p":"d2","c":"q1","k":"r","x":210.25,"y":0.497},{"p":"d2","c":"q1","k":"r","x":210,"y":0.346},{"p":"d2","c":"q1","k":"r","x":209.75,"y":0.19},{"p":"d2","c":"q1","k":"r","x":209.5,"y":0.0818},{"p":"d2","c":"q1","k":"r","x":209.25,"y":0.0274},{"p":"d2","c":"q1","k":"r","x":209,"y":0.0073},{"p":"d2","c":"q1","k":"r","x":208.75,"y":0.0016},
{"p":"d2","c":"q2","k":"r","x":209.5,"y":0.0024},{"p":"d2","c":"q2","k":"r","x":209.25,"y":0.0113},{"p":"d2","c":"q2","k":"r","x":209,"y":0.0421},{"p":"d2","c":"q2","k":"r","x":208.75,"y":0.126},{"p":"d2","c":"q2","k":"r","x":208.5,"y":0.292},{"p":"d2","c":"q2","k":"r","x":208.25,"y":0.531},{"p":"d2","c":"q2","k":"r","x":208,"y":0.763},{"p":"d2","c":"q2","k":"r","x":207.75,"y":0.86},{"p":"d2","c":"q2","k":"r","x":207.5,"y":0.763},{"p":"d2","c":"q2","k":"r","x":207.25,"y":0.531},{"p":"d2","c":"q2","k":"r","x":207,"y":0.292},{"p":"d2","c":"q2","k":"r","x":206.75,"y":0.126},{"p":"d2","c":"q2","k":"r","x":206.5,"y":0.0421},{"p":"d2","c":"q2","k":"r","x":206.25,"y":0.0113},{"p":"d2","c":"q2","k":"r","x":206,"y":0.0024},
{"p":"e2","c":"u1","k":"r","x":29.75,"y":0.0042},{"p":"e2","c":"u1","k":"r","x":29.5,"y":0.0163},{"p":"e2","c":"u1","k":"r","x":29.25,"y":0.05},{"p":"e2","c":"u1","k":"r","x":29,"y":0.126},{"p":"e2","c":"u1","k":"r","x":28.75,"y":0.258},{"p":"e2","c":"u1","k":"r","x":28.5,"y":0.432},{"p":"e2","c":"u1","k":"r","x":28.25,"y":0.587},{"p":"e2","c":"u1","k":"r","x":28,"y":0.65},{"p":"e2","c":"u1","k":"r","x":27.75,"y":0.587},{"p":"e2","c":"u1","k":"r","x":27.5,"y":0.432},{"p":"e2","c":"u1","k":"r","x":27.25,"y":0.258},{"p":"e2","c":"u1","k":"r","x":27,"y":0.126},{"p":"e2","c":"u1","k":"r","x":26.75,"y":0.05},{"p":"e2","c":"u1","k":"r","x":26.5,"y":0.0163},{"p":"e2","c":"u1","k":"r","x":26.25,"y":0.0042},
{"p":"e2","c":"u2","k":"r","x":27.75,"y":0.0057},{"p":"e2","c":"u2","k":"r","x":27.5,"y":0.0218},{"p":"e2","c":"u2","k":"r","x":27.25,"y":0.067},{"p":"e2","c":"u2","k":"r","x":27,"y":0.169},{"p":"e2","c":"u2","k":"r","x":26.75,"y":0.345},{"p":"e2","c":"u2","k":"r","x":26.5,"y":0.578},{"p":"e2","c":"u2","k":"r","x":26.25,"y":0.786},{"p":"e2","c":"u2","k":"r","x":26,"y":0.87},{"p":"e2","c":"u2","k":"r","x":25.75,"y":0.786},{"p":"e2","c":"u2","k":"r","x":25.5,"y":0.578},{"p":"e2","c":"u2","k":"r","x":25.25,"y":0.345},{"p":"e2","c":"u2","k":"r","x":25,"y":0.169},{"p":"e2","c":"u2","k":"r","x":24.75,"y":0.067},{"p":"e2","c":"u2","k":"r","x":24.5,"y":0.0218},{"p":"e2","c":"u2","k":"r","x":24.25,"y":0.0057},
{"p":"e2","c":"u3","k":"bh","x":26,"y":0.0007},{"p":"e2","c":"u3","k":"bh","x":25.5,"y":0.0029},{"p":"e2","c":"u3","k":"bh","x":25,"y":0.0085},{"p":"e2","c":"u3","k":"bh","x":24.5,"y":0.0161},{"p":"e2","c":"u3","k":"bh","x":24,"y":0.02},{"p":"e2","c":"u3","k":"bh","x":23.5,"y":0.0161},{"p":"e2","c":"u3","k":"bh","x":23,"y":0.0085},{"p":"e2","c":"u3","k":"bh","x":22.5,"y":0.0029},{"p":"e2","c":"u3","k":"bh","x":22,"y":0.0007},
{"p":"e2","c":"u4","k":"bh","x":24.25,"y":0.001},{"p":"e2","c":"u4","k":"bh","x":23.75,"y":0.0047},{"p":"e2","c":"u4","k":"bh","x":23.25,"y":0.0136},{"p":"e2","c":"u4","k":"bh","x":22.75,"y":0.0258},{"p":"e2","c":"u4","k":"bh","x":22.25,"y":0.032},{"p":"e2","c":"u4","k":"bh","x":21.75,"y":0.0258},{"p":"e2","c":"u4","k":"bh","x":21.25,"y":0.0136},{"p":"e2","c":"u4","k":"bh","x":20.75,"y":0.0047},{"p":"e2","c":"u4","k":"bh","x":20.25,"y":0.001}
],
"lab": [
{"p":"a","x":234.94,"y":0.71,"t":"MoO₃"},{"p":"a","x":229.45,"y":0.455,"t":"Mo₂O₅"},{"p":"a","x":227.7,"y":0.225,"t":"MoO₂"},
{"p":"b","x":37.7,"y":0.816,"t":"WO₃"},{"p":"b","x":30.93,"y":0.213,"t":"WO₂"},{"p":"b","x":41.23,"y":0.098,"t":"W 5p"},
{"p":"c","x":48.95,"y":0.797,"t":"ReO₃"},{"p":"c","x":43.55,"y":0.6,"t":"ReO₂"},{"p":"c","x":39.65,"y":0.277,"t":"ReO₃₋ₓ"},
{"p":"a2","x":231.7,"y":0.908,"t":"MoS₂"},{"p":"a2","x":235.3,"y":0.19,"t":"MoO₃₋ₓ"},{"p":"a2","x":226.7,"y":0.2,"t":"S 2s"},
{"p":"b2","x":34.75,"y":0.871,"t":"WS₂"},{"p":"b2","x":29.78,"y":0.208,"t":"WO₃₋ₓ"},{"p":"b2","x":38.47,"y":0.116,"t":"W 5p"},
{"p":"c2","x":44.99,"y":0.837,"t":"ReS₂"},{"p":"c2","x":48.1,"y":0.21,"t":"ReO₃"},{"p":"c2","x":38.8,"y":0.244,"t":"ReS₂₋ₓ"},
{"p":"d","x":210.14,"y":0.867,"t":"Nb₂O₅"},{"p":"d","x":204.56,"y":0.274,"t":"NbOₓ"},
{"p":"e","x":29.86,"y":0.867,"t":"Ta₂O₅"},{"p":"e","x":23.14,"y":0.08,"t":"O 2s"},
{"p":"d2","x":210.49,"y":0.878,"t":"Nb₂O₅"},
{"p":"e2","x":29.0,"y":0.873,"t":"TaOₓ"},{"p":"e2","x":23.14,"y":0.117,"t":"TaS₂₋ₓ"}
],
"ld": [
{"p":"a","x":234.9,"y":0.67,"x2":235.15,"y2":0.33},{"p":"a","x":234.9,"y":0.67,"x2":232.6,"y2":0.54},{"p":"a","x":229.8,"y":0.42,"x2":234.8,"y2":0.1},{"p":"a","x":229.8,"y":0.42,"x2":231.76,"y2":0.17},{"p":"a","x":228.0,"y":0.195,"x2":232.77,"y2":0.037},{"p":"a","x":228.0,"y":0.195,"x2":229.6,"y2":0.1},
{"p":"b","x":38.4,"y":0.77,"x2":37.3,"y2":0.55},{"p":"b","x":38.4,"y":0.77,"x2":35.95,"y2":0.62},{"p":"b","x":31.9,"y":0.18,"x2":36.12,"y2":0.037},{"p":"b","x":31.9,"y":0.18,"x2":33.3,"y2":0.044},
{"p":"c","x":48.65,"y":0.755,"x2":48.43,"y2":0.51},{"p":"c","x":48.65,"y":0.755,"x2":46.1,"y2":0.593},{"p":"c","x":43.6,"y":0.555,"x2":44.53,"y2":0.24},{"p":"c","x":43.6,"y":0.555,"x2":42.65,"y2":0.417},{"p":"c","x":40.4,"y":0.245,"x2":45.9,"y2":0.086},{"p":"c","x":40.4,"y":0.245,"x2":43.5,"y2":0.03},
{"p":"a2","x":231.6,"y":0.85,"x2":232.4,"y2":0.654},{"p":"a2","x":231.6,"y":0.85,"x2":229.4,"y2":0.758},{"p":"a2","x":234.4,"y":0.15,"x2":235.5,"y2":0.02},{"p":"a2","x":234.4,"y":0.15,"x2":232.0,"y2":0.03},
{"p":"b2","x":34.68,"y":0.82,"x2":34.57,"y2":0.6},{"p":"b2","x":34.68,"y":0.82,"x2":32.7,"y2":0.685},{"p":"b2","x":30.67,"y":0.19,"x2":35.1,"y2":0.08},{"p":"b2","x":30.67,"y":0.19,"x2":33.15,"y2":0.073},
{"p":"c2","x":44.9,"y":0.785,"x2":44.2,"y2":0.617},{"p":"c2","x":44.9,"y":0.785,"x2":41.96,"y2":0.666},{"p":"c2","x":48.1,"y":0.17,"x2":48.1,"y2":0.02},{"p":"c2","x":48.1,"y":0.17,"x2":45.8,"y2":0.03},{"p":"c2","x":39.6,"y":0.2,"x2":42.95,"y2":0.1},{"p":"c2","x":39.6,"y":0.2,"x2":41.1,"y2":0.12},
{"p":"d","x":210.14,"y":0.81,"x2":210.14,"y2":0.516},{"p":"d","x":210.14,"y":0.81,"x2":207.46,"y2":0.625},{"p":"d","x":204.7,"y":0.225,"x2":208.4,"y2":0.03},{"p":"d","x":204.7,"y":0.225,"x2":205.1,"y2":0.044},
{"p":"e","x":29.3,"y":0.81,"x2":28.75,"y2":0.625},{"p":"e","x":29.3,"y":0.81,"x2":26.9,"y2":0.66},
{"p":"d2","x":209.9,"y":0.82,"x2":210.37,"y2":0.549},{"p":"d2","x":209.9,"y":0.82,"x2":207.8,"y2":0.707},
{"p":"e2","x":28.38,"y":0.815,"x2":27.92,"y2":0.654},{"p":"e2","x":28.38,"y":0.815,"x2":26.07,"y2":0.678},{"p":"e2","x":22.8,"y":0.093,"x2":24.2,"y2":0.037},{"p":"e2","x":22.8,"y":0.093,"x2":22.45,"y2":0.044}
],
"ttl": [
{"p":"a","x":225,"y":0.93,"t":"Mo, As-deposited"},{"p":"b","x":28,"y":0.93,"t":"W, As-deposited"},{"p":"c","x":36,"y":0.93,"t":"Re, As-deposited"},
{"p":"a2","x":222,"y":0.93,"t":"Mo, Sulfidized"},{"p":"b2","x":28,"y":0.93,"t":"W, Sulfidized"},{"p":"c2","x":36,"y":0.93,"t":"Re, Sulfidized"},
{"p":"d","x":202,"y":0.93,"t":"Nb, As-deposited"},{"p":"e","x":18,"y":0.93,"t":"Ta, As-deposited"},
{"p":"d2","x":202,"y":0.93,"t":"Nb, Sulfidized"},{"p":"e2","x":18,"y":0.93,"t":"Ta, Sulfidized"}
]
},
"vconcat": [
{"hconcat": [
{"width": 171, "height": 136, "title": {"text": "(a)"},
 "encoding": {"x": {"field": "x", "type": "quantitative", "scale": {"domain": [225, 240], "reverse": true, "nice": false, "zero": false}, "axis": {"values": [225,226,227,228,229,230,231,232,233,234,235,236,237,238,239,240], "title": "Binding energy (eV)"}}, "y": {"field": "y", "type": "quantitative", "stack": null, "scale": {"domain": [0, 1], "nice": false}, "axis": null}},
 "layer": [
  {"data": {"name": "cmp"}, "transform": [{"filter": "datum.p == 'a' && datum.k != 'gs' && datum.k != 'bs'"}], "mark": {"type": "area", "interpolate": "monotone", "opacity": 0.15}, "encoding": {"detail": {"field": "c"}, "fill": {"field": "k", "scale": {"domain": ["r","gh","bh","kh","o","gs","bs"], "range": ["#ff3030","#30b030","#3040ff","#707070","#c03030","#1e9a24","#2c2cd8"]}, "legend": null}}},
  {"data": {"name": "cmp"}, "transform": [{"filter": "datum.p == 'a' && datum.k != 'gs' && datum.k != 'bs'"}], "mark": {"type": "line", "interpolate": "monotone", "strokeWidth": 0.8}, "encoding": {"detail": {"field": "c"}, "stroke": {"field": "k", "scale": {"domain": ["r","gh","bh","kh","o","gs","bs"], "range": ["#ff0000","#2a9a2a","#2020ff","#2d5a2d","#a00000","#1a7f1a","#2020c0"]}, "legend": null}}},
  {"data": {"name": "cmp"}, "transform": [{"filter": "datum.p == 'a' && (datum.k == 'gs' || datum.k == 'bs')"}], "mark": {"type": "area", "interpolate": "monotone", "opacity": 0.92}, "encoding": {"detail": {"field": "c"}, "fill": {"field": "k", "legend": null}}},
  {"data": {"name": "env"}, "transform": [{"filter": "datum.p == 'a'"}], "mark": {"type": "line", "interpolate": "monotone", "color": "#000", "strokeWidth": 1.6, "point": {"filled": true, "shape": "square", "size": 7, "color": "#000"}}, "encoding": {}},
  {"data": {"name": "ld"}, "transform": [{"filter": "datum.p == 'a'"}], "mark": {"type": "rule", "strokeWidth": 0.6, "color": "#000"}, "encoding": {"x2": {"field": "x2"}, "y2": {"field": "y2"}}},
  {"data": {"name": "lab"}, "transform": [{"filter": "datum.p == 'a'"}], "mark": {"type": "text", "fontSize": 8, "color": "#333"}, "encoding": {"text": {"field": "t"}}},
  {"data": {"name": "ttl"}, "transform": [{"filter": "datum.p == 'a'"}], "mark": {"type": "text", "fontSize": 8.5, "fontWeight": "bold", "align": "right", "dx": -3, "color": "#000"}, "encoding": {"text": {"field": "t"}}}
 ]},
{"width": 170, "height": 136, "title": {"text": "(b)"},
 "encoding": {"x": {"field": "x", "type": "quantitative", "scale": {"domain": [28, 46], "reverse": true, "nice": false, "zero": false}, "axis": {"values": [28,29,30,31,32,33,34,35,36,37,38,39,40,41,42,43,44,45,46], "title": "Binding energy (eV)"}}, "y": {"field": "y", "type": "quantitative", "stack": null, "scale": {"domain": [0, 1], "nice": false}, "axis": null}},
 "layer": [
  {"data": {"name": "cmp"}, "transform": [{"filter": "datum.p == 'b' && datum.k != 'gs' && datum.k != 'bs'"}], "mark": {"type": "area", "interpolate": "monotone", "opacity": 0.15}, "encoding": {"detail": {"field": "c"}, "fill": {"field": "k", "legend": null}}},
  {"data": {"name": "cmp"}, "transform": [{"filter": "datum.p == 'b' && datum.k != 'gs' && datum.k != 'bs'"}], "mark": {"type": "line", "interpolate": "monotone", "strokeWidth": 0.8}, "encoding": {"detail": {"field": "c"}, "stroke": {"field": "k", "legend": null}}},
  {"data": {"name": "cmp"}, "transform": [{"filter": "datum.p == 'b' && (datum.k == 'gs' || datum.k == 'bs')"}], "mark": {"type": "area", "interpolate": "monotone", "opacity": 0.92}, "encoding": {"detail": {"field": "c"}, "fill": {"field": "k", "legend": null}}},
  {"data": {"name": "env"}, "transform": [{"filter": "datum.p == 'b'"}], "mark": {"type": "line", "interpolate": "monotone", "color": "#000", "strokeWidth": 1.6, "point": {"filled": true, "shape": "square", "size": 7, "color": "#000"}}, "encoding": {}},
  {"data": {"name": "ld"}, "transform": [{"filter": "datum.p == 'b'"}], "mark": {"type": "rule", "strokeWidth": 0.6, "color": "#000"}, "encoding": {"x2": {"field": "x2"}, "y2": {"field": "y2"}}},
  {"data": {"name": "lab"}, "transform": [{"filter": "datum.p == 'b'"}], "mark": {"type": "text", "fontSize": 8, "color": "#333"}, "encoding": {"text": {"field": "t"}}},
  {"data": {"name": "ttl"}, "transform": [{"filter": "datum.p == 'b'"}], "mark": {"type": "text", "fontSize": 8.5, "fontWeight": "bold", "align": "right", "dx": -3, "color": "#000"}, "encoding": {"text": {"field": "t"}}}
 ]},
{"width": 173, "height": 136, "title": {"text": "(c)", "dx": -7},
 "encoding": {"x": {"field": "x", "type": "quantitative", "scale": {"domain": [36, 52], "reverse": true, "nice": false, "zero": false}, "axis": {"values": [36,37,38,39,40,41,42,43,44,45,46,47,48,49,50,51,52], "title": "Binding energy (eV)"}}, "y": {"field": "y", "type": "quantitative", "stack": null, "scale": {"domain": [0, 1], "nice": false}, "axis": null}},
 "layer": [
  {"data": {"name": "cmp"}, "transform": [{"filter": "datum.p == 'c' && datum.k != 'gs' && datum.k != 'bs'"}], "mark": {"type": "area", "interpolate": "monotone", "opacity": 0.15}, "encoding": {"detail": {"field": "c"}, "fill": {"field": "k", "legend": null}}},
  {"data": {"name": "cmp"}, "transform": [{"filter": "datum.p == 'c' && datum.k != 'gs' && datum.k != 'bs'"}], "mark": {"type": "line", "interpolate": "monotone", "strokeWidth": 0.8}, "encoding": {"detail": {"field": "c"}, "stroke": {"field": "k", "legend": null}}},
  {"data": {"name": "cmp"}, "transform": [{"filter": "datum.p == 'c' && (datum.k == 'gs' || datum.k == 'bs')"}], "mark": {"type": "area", "interpolate": "monotone", "opacity": 0.92}, "encoding": {"detail": {"field": "c"}, "fill": {"field": "k", "legend": null}}},
  {"data": {"name": "env"}, "transform": [{"filter": "datum.p == 'c'"}], "mark": {"type": "line", "interpolate": "monotone", "color": "#000", "strokeWidth": 1.6, "point": {"filled": true, "shape": "square", "size": 7, "color": "#000"}}, "encoding": {}},
  {"data": {"name": "ld"}, "transform": [{"filter": "datum.p == 'c'"}], "mark": {"type": "rule", "strokeWidth": 0.6, "color": "#000"}, "encoding": {"x2": {"field": "x2"}, "y2": {"field": "y2"}}},
  {"data": {"name": "lab"}, "transform": [{"filter": "datum.p == 'c'"}], "mark": {"type": "text", "fontSize": 8, "color": "#333"}, "encoding": {"text": {"field": "t"}}},
  {"data": {"name": "ttl"}, "transform": [{"filter": "datum.p == 'c'"}], "mark": {"type": "text", "fontSize": 8.5, "fontWeight": "bold", "align": "right", "dx": -3, "color": "#000"}, "encoding": {"text": {"field": "t"}}}
 ]}
], "spacing": 79, "bounds": "flush"},
{"hconcat": [
 {"width": 171, "height": 50, "view": {"stroke": null}, "data": {"values": [{"x": 0.5, "y": 0.84, "y2": 0.6, "h": 0.53}]}, "encoding": {"x": {"field": "x", "type": "quantitative", "scale": {"domain": [0, 1]}, "axis": null}}, "layer": [{"mark": {"type": "rule", "strokeWidth": 5, "color": "#4f81bd"}, "encoding": {"y": {"field": "y", "type": "quantitative", "scale": {"domain": [0, 1]}, "axis": null}, "y2": {"field": "y2"}}}, {"mark": {"type": "point", "shape": "triangle-down", "filled": true, "size": 130, "color": "#4f81bd", "opacity": 1}, "encoding": {"y": {"field": "h", "type": "quantitative", "scale": {"domain": [0, 1]}, "axis": null}}}]},
 {"width": 170, "height": 50, "view": {"stroke": null}, "data": {"values": [{"x": 0.5, "y": 0.84, "y2": 0.6, "h": 0.53}]}, "encoding": {"x": {"field": "x", "type": "quantitative", "scale": {"domain": [0, 1]}, "axis": null}}, "layer": [{"mark": {"type": "rule", "strokeWidth": 5, "color": "#4f81bd"}, "encoding": {"y": {"field": "y", "type": "quantitative", "scale": {"domain": [0, 1]}, "axis": null}, "y2": {"field": "y2"}}}, {"mark": {"type": "point", "shape": "triangle-down", "filled": true, "size": 130, "color": "#4f81bd", "opacity": 1}, "encoding": {"y": {"field": "h", "type": "quantitative", "scale": {"domain": [0, 1]}, "axis": null}}}]},
 {"width": 173, "height": 50, "view": {"stroke": null}, "data": {"values": [{"x": 0.5, "y": 0.84, "y2": 0.6, "h": 0.53}]}, "encoding": {"x": {"field": "x", "type": "quantitative", "scale": {"domain": [0, 1]}, "axis": null}}, "layer": [{"mark": {"type": "rule", "strokeWidth": 5, "color": "#4f81bd"}, "encoding": {"y": {"field": "y", "type": "quantitative", "scale": {"domain": [0, 1]}, "axis": null}, "y2": {"field": "y2"}}}, {"mark": {"type": "point", "shape": "triangle-down", "filled": true, "size": 130, "color": "#4f81bd", "opacity": 1}, "encoding": {"y": {"field": "h", "type": "quantitative", "scale": {"domain": [0, 1]}, "axis": null}}}]}
], "spacing": 79, "bounds": "flush"},
{"hconcat": [
{"width": 172, "height": 138, "title": {"text": "(a’)"},
 "encoding": {"x": {"field": "x", "type": "quantitative", "scale": {"domain": [222, 240], "reverse": true, "nice": false, "zero": false}, "axis": {"values": [222,223,224,225,226,227,228,229,230,231,232,233,234,235,236,237,238,239,240], "title": "Binding energy (eV)"}}, "y": {"field": "y", "type": "quantitative", "stack": null, "scale": {"domain": [0, 1], "nice": false}, "axis": null}},
 "layer": [
  {"data": {"name": "cmp"}, "transform": [{"filter": "datum.p == 'a2' && datum.k != 'gs' && datum.k != 'bs'"}], "mark": {"type": "area", "interpolate": "monotone", "opacity": 0.15}, "encoding": {"detail": {"field": "c"}, "fill": {"field": "k", "legend": null}}},
  {"data": {"name": "cmp"}, "transform": [{"filter": "datum.p == 'a2' && datum.k != 'gs' && datum.k != 'bs'"}], "mark": {"type": "line", "interpolate": "monotone", "strokeWidth": 0.8}, "encoding": {"detail": {"field": "c"}, "stroke": {"field": "k", "legend": null}}},
  {"data": {"name": "cmp"}, "transform": [{"filter": "datum.p == 'a2' && (datum.k == 'gs' || datum.k == 'bs')"}], "mark": {"type": "area", "interpolate": "monotone", "opacity": 0.92}, "encoding": {"detail": {"field": "c"}, "fill": {"field": "k", "legend": null}}},
  {"data": {"name": "env"}, "transform": [{"filter": "datum.p == 'a2'"}], "mark": {"type": "line", "interpolate": "monotone", "color": "#000", "strokeWidth": 1.6, "point": {"filled": true, "shape": "square", "size": 7, "color": "#000"}}, "encoding": {}},
  {"data": {"name": "ld"}, "transform": [{"filter": "datum.p == 'a2'"}], "mark": {"type": "rule", "strokeWidth": 0.6, "color": "#000"}, "encoding": {"x2": {"field": "x2"}, "y2": {"field": "y2"}}},
  {"data": {"name": "lab"}, "transform": [{"filter": "datum.p == 'a2'"}], "mark": {"type": "text", "fontSize": 8, "color": "#333"}, "encoding": {"text": {"field": "t"}}},
  {"data": {"name": "ttl"}, "transform": [{"filter": "datum.p == 'a2'"}], "mark": {"type": "text", "fontSize": 8.5, "fontWeight": "bold", "align": "right", "dx": -3, "color": "#000"}, "encoding": {"text": {"field": "t"}}}
 ]},
{"width": 170, "height": 138, "title": {"text": "(b’)", "dx": -4},
 "encoding": {"x": {"field": "x", "type": "quantitative", "scale": {"domain": [28, 46], "reverse": true, "nice": false, "zero": false}, "axis": {"values": [28,29,30,31,32,33,34,35,36,37,38,39,40,41,42,43,44,45,46], "title": "Binding energy (eV)"}}, "y": {"field": "y", "type": "quantitative", "stack": null, "scale": {"domain": [0, 1], "nice": false}, "axis": null}},
 "layer": [
  {"data": {"name": "cmp"}, "transform": [{"filter": "datum.p == 'b2' && datum.k != 'gs' && datum.k != 'bs'"}], "mark": {"type": "area", "interpolate": "monotone", "opacity": 0.15}, "encoding": {"detail": {"field": "c"}, "fill": {"field": "k", "legend": null}}},
  {"data": {"name": "cmp"}, "transform": [{"filter": "datum.p == 'b2' && datum.k != 'gs' && datum.k != 'bs'"}], "mark": {"type": "line", "interpolate": "monotone", "strokeWidth": 0.8}, "encoding": {"detail": {"field": "c"}, "stroke": {"field": "k", "legend": null}}},
  {"data": {"name": "cmp"}, "transform": [{"filter": "datum.p == 'b2' && (datum.k == 'gs' || datum.k == 'bs')"}], "mark": {"type": "area", "interpolate": "monotone", "opacity": 0.92}, "encoding": {"detail": {"field": "c"}, "fill": {"field": "k", "legend": null}}},
  {"data": {"name": "env"}, "transform": [{"filter": "datum.p == 'b2'"}], "mark": {"type": "line", "interpolate": "monotone", "color": "#000", "strokeWidth": 1.6, "point": {"filled": true, "shape": "square", "size": 7, "color": "#000"}}, "encoding": {}},
  {"data": {"name": "ld"}, "transform": [{"filter": "datum.p == 'b2'"}], "mark": {"type": "rule", "strokeWidth": 0.6, "color": "#000"}, "encoding": {"x2": {"field": "x2"}, "y2": {"field": "y2"}}},
  {"data": {"name": "lab"}, "transform": [{"filter": "datum.p == 'b2'"}], "mark": {"type": "text", "fontSize": 8, "color": "#333"}, "encoding": {"text": {"field": "t"}}},
  {"data": {"name": "ttl"}, "transform": [{"filter": "datum.p == 'b2'"}], "mark": {"type": "text", "fontSize": 8.5, "fontWeight": "bold", "align": "right", "dx": -3, "color": "#000"}, "encoding": {"text": {"field": "t"}}}
 ]},
{"width": 173, "height": 138, "title": {"text": "(c’)", "dx": -7},
 "encoding": {"x": {"field": "x", "type": "quantitative", "scale": {"domain": [36, 52], "reverse": true, "nice": false, "zero": false}, "axis": {"values": [36,37,38,39,40,41,42,43,44,45,46,47,48,49,50,51,52], "title": "Binding energy (eV)"}}, "y": {"field": "y", "type": "quantitative", "stack": null, "scale": {"domain": [0, 1], "nice": false}, "axis": null}},
 "layer": [
  {"data": {"name": "cmp"}, "transform": [{"filter": "datum.p == 'c2' && datum.k != 'gs' && datum.k != 'bs'"}], "mark": {"type": "area", "interpolate": "monotone", "opacity": 0.15}, "encoding": {"detail": {"field": "c"}, "fill": {"field": "k", "legend": null}}},
  {"data": {"name": "cmp"}, "transform": [{"filter": "datum.p == 'c2' && datum.k != 'gs' && datum.k != 'bs'"}], "mark": {"type": "line", "interpolate": "monotone", "strokeWidth": 0.8}, "encoding": {"detail": {"field": "c"}, "stroke": {"field": "k", "legend": null}}},
  {"data": {"name": "cmp"}, "transform": [{"filter": "datum.p == 'c2' && (datum.k == 'gs' || datum.k == 'bs')"}], "mark": {"type": "area", "interpolate": "monotone", "opacity": 0.92}, "encoding": {"detail": {"field": "c"}, "fill": {"field": "k", "legend": null}}},
  {"data": {"name": "env"}, "transform": [{"filter": "datum.p == 'c2'"}], "mark": {"type": "line", "interpolate": "monotone", "color": "#000", "strokeWidth": 1.6, "point": {"filled": true, "shape": "square", "size": 7, "color": "#000"}}, "encoding": {}},
  {"data": {"name": "ld"}, "transform": [{"filter": "datum.p == 'c2'"}], "mark": {"type": "rule", "strokeWidth": 0.6, "color": "#000"}, "encoding": {"x2": {"field": "x2"}, "y2": {"field": "y2"}}},
  {"data": {"name": "lab"}, "transform": [{"filter": "datum.p == 'c2'"}], "mark": {"type": "text", "fontSize": 8, "color": "#333"}, "encoding": {"text": {"field": "t"}}},
  {"data": {"name": "ttl"}, "transform": [{"filter": "datum.p == 'c2'"}], "mark": {"type": "text", "fontSize": 8.5, "fontWeight": "bold", "align": "right", "dx": -3, "color": "#000"}, "encoding": {"text": {"field": "t"}}}
 ]}
], "spacing": 79, "bounds": "flush"},
{"width": 424, "height": 21, "view": {"stroke": null}, "data": {"values": [{"x": 0}]}, "mark": {"type": "point", "opacity": 0}, "encoding": {"x": {"field": "x", "type": "quantitative", "axis": null}}},
{"hconcat": [
{"width": 172, "height": 138, "title": {"text": "(d)", "dx": -3},
 "encoding": {"x": {"field": "x", "type": "quantitative", "scale": {"domain": [202, 214], "reverse": true, "nice": false, "zero": false}, "axis": {"values": [202,203,204,205,206,207,208,209,210,211,212,213,214], "title": "Binding energy (eV)"}}, "y": {"field": "y", "type": "quantitative", "stack": null, "scale": {"domain": [0, 1], "nice": false}, "axis": null}},
 "layer": [
  {"data": {"name": "cmp"}, "transform": [{"filter": "datum.p == 'd' && datum.k != 'gs' && datum.k != 'bs'"}], "mark": {"type": "area", "interpolate": "monotone", "opacity": 0.15}, "encoding": {"detail": {"field": "c"}, "fill": {"field": "k", "legend": null}}},
  {"data": {"name": "cmp"}, "transform": [{"filter": "datum.p == 'd' && datum.k != 'gs' && datum.k != 'bs'"}], "mark": {"type": "line", "interpolate": "monotone", "strokeWidth": 0.8}, "encoding": {"detail": {"field": "c"}, "stroke": {"field": "k", "legend": null}}},
  {"data": {"name": "env"}, "transform": [{"filter": "datum.p == 'd'"}], "mark": {"type": "line", "interpolate": "monotone", "color": "#000", "strokeWidth": 1.6, "point": {"filled": true, "shape": "square", "size": 7, "color": "#000"}}, "encoding": {}},
  {"data": {"name": "ld"}, "transform": [{"filter": "datum.p == 'd'"}], "mark": {"type": "rule", "strokeWidth": 0.6, "color": "#000"}, "encoding": {"x2": {"field": "x2"}, "y2": {"field": "y2"}}},
  {"data": {"name": "lab"}, "transform": [{"filter": "datum.p == 'd'"}], "mark": {"type": "text", "fontSize": 8, "color": "#333"}, "encoding": {"text": {"field": "t"}}},
  {"data": {"name": "ttl"}, "transform": [{"filter": "datum.p == 'd'"}], "mark": {"type": "text", "fontSize": 8.5, "fontWeight": "bold", "align": "right", "dx": -3, "color": "#000"}, "encoding": {"text": {"field": "t"}}}
 ]},
{"width": 173, "height": 138, "title": {"text": "(e)"},
 "encoding": {"x": {"field": "x", "type": "quantitative", "scale": {"domain": [18, 34], "reverse": true, "nice": false, "zero": false}, "axis": {"values": [18,19,20,21,22,23,24,25,26,27,28,29,30,31,32,33,34], "title": "Binding energy (eV)"}}, "y": {"field": "y", "type": "quantitative", "stack": null, "scale": {"domain": [0, 1], "nice": false}, "axis": null}},
 "layer": [
  {"data": {"name": "cmp"}, "transform": [{"filter": "datum.p == 'e' && datum.k != 'gs' && datum.k != 'bs'"}], "mark": {"type": "area", "interpolate": "monotone", "opacity": 0.15}, "encoding": {"detail": {"field": "c"}, "fill": {"field": "k", "legend": null}}},
  {"data": {"name": "cmp"}, "transform": [{"filter": "datum.p == 'e' && datum.k != 'gs' && datum.k != 'bs'"}], "mark": {"type": "line", "interpolate": "monotone", "strokeWidth": 0.8}, "encoding": {"detail": {"field": "c"}, "stroke": {"field": "k", "legend": null}}},
  {"data": {"name": "env"}, "transform": [{"filter": "datum.p == 'e'"}], "mark": {"type": "line", "interpolate": "monotone", "color": "#000", "strokeWidth": 1.6, "point": {"filled": true, "shape": "square", "size": 7, "color": "#000"}}, "encoding": {}},
  {"data": {"name": "ld"}, "transform": [{"filter": "datum.p == 'e'"}], "mark": {"type": "rule", "strokeWidth": 0.6, "color": "#000"}, "encoding": {"x2": {"field": "x2"}, "y2": {"field": "y2"}}},
  {"data": {"name": "lab"}, "transform": [{"filter": "datum.p == 'e'"}], "mark": {"type": "text", "fontSize": 8, "color": "#333"}, "encoding": {"text": {"field": "t"}}},
  {"data": {"name": "ttl"}, "transform": [{"filter": "datum.p == 'e'"}], "mark": {"type": "text", "fontSize": 8.5, "fontWeight": "bold", "align": "right", "dx": -3, "color": "#000"}, "encoding": {"text": {"field": "t"}}}
 ]}
], "spacing": 79, "bounds": "flush"},
{"hconcat": [
 {"width": 172, "height": 21, "view": {"stroke": null}, "data": {"values": [{"x": 0.5, "y": 0.8, "y2": 0.2, "h": 0.05}]}, "encoding": {"x": {"field": "x", "type": "quantitative", "scale": {"domain": [0, 1]}, "axis": null}}, "layer": [{"mark": {"type": "rule", "strokeWidth": 5, "color": "#4f81bd"}, "encoding": {"y": {"field": "y", "type": "quantitative", "scale": {"domain": [0, 1]}, "axis": null}, "y2": {"field": "y2"}}}, {"mark": {"type": "point", "shape": "triangle-down", "filled": true, "size": 130, "color": "#4f81bd", "opacity": 1}, "encoding": {"y": {"field": "h", "type": "quantitative", "scale": {"domain": [0, 1]}, "axis": null}}}]},
 {"width": 173, "height": 21, "view": {"stroke": null}, "data": {"values": [{"x": 0.5, "y": 0.8, "y2": 0.2, "h": 0.05}]}, "encoding": {"x": {"field": "x", "type": "quantitative", "scale": {"domain": [0, 1]}, "axis": null}}, "layer": [{"mark": {"type": "rule", "strokeWidth": 5, "color": "#4f81bd"}, "encoding": {"y": {"field": "y", "type": "quantitative", "scale": {"domain": [0, 1]}, "axis": null}, "y2": {"field": "y2"}}}, {"mark": {"type": "point", "shape": "triangle-down", "filled": true, "size": 130, "color": "#4f81bd", "opacity": 1}, "encoding": {"y": {"field": "h", "type": "quantitative", "scale": {"domain": [0, 1]}, "axis": null}}}]}
], "spacing": 79, "bounds": "flush"},
{"hconcat": [
{"width": 172, "height": 137, "title": {"text": "(d’)", "dx": -3},
 "encoding": {"x": {"field": "x", "type": "quantitative", "scale": {"domain": [202, 214], "reverse": true, "nice": false, "zero": false}, "axis": {"values": [202,203,204,205,206,207,208,209,210,211,212,213,214], "title": "Binding energy (eV)"}}, "y": {"field": "y", "type": "quantitative", "stack": null, "scale": {"domain": [0, 1], "nice": false}, "axis": null}},
 "layer": [
  {"data": {"name": "cmp"}, "transform": [{"filter": "datum.p == 'd2'"}], "mark": {"type": "area", "interpolate": "monotone", "opacity": 0.15}, "encoding": {"detail": {"field": "c"}, "fill": {"field": "k", "legend": null}}},
  {"data": {"name": "cmp"}, "transform": [{"filter": "datum.p == 'd2'"}], "mark": {"type": "line", "interpolate": "monotone", "strokeWidth": 0.8}, "encoding": {"detail": {"field": "c"}, "stroke": {"field": "k", "legend": null}}},
  {"data": {"name": "env"}, "transform": [{"filter": "datum.p == 'd2'"}], "mark": {"type": "line", "interpolate": "monotone", "color": "#000", "strokeWidth": 1.6, "point": {"filled": true, "shape": "square", "size": 7, "color": "#000"}}, "encoding": {}},
  {"data": {"name": "ld"}, "transform": [{"filter": "datum.p == 'd2'"}], "mark": {"type": "rule", "strokeWidth": 0.6, "color": "#000"}, "encoding": {"x2": {"field": "x2"}, "y2": {"field": "y2"}}},
  {"data": {"name": "lab"}, "transform": [{"filter": "datum.p == 'd2'"}], "mark": {"type": "text", "fontSize": 8, "color": "#333"}, "encoding": {"text": {"field": "t"}}},
  {"data": {"name": "ttl"}, "transform": [{"filter": "datum.p == 'd2'"}], "mark": {"type": "text", "fontSize": 8.5, "fontWeight": "bold", "align": "right", "dx": -3, "color": "#000"}, "encoding": {"text": {"field": "t"}}}
 ]},
{"width": 173, "height": 137, "title": {"text": "(e’)", "dx": -3},
 "encoding": {"x": {"field": "x", "type": "quantitative", "scale": {"domain": [18, 34], "reverse": true, "nice": false, "zero": false}, "axis": {"values": [18,19,20,21,22,23,24,25,26,27,28,29,30,31,32,33,34], "title": "Binding energy (eV)"}}, "y": {"field": "y", "type": "quantitative", "stack": null, "scale": {"domain": [0, 1], "nice": false}, "axis": null}},
 "layer": [
  {"data": {"name": "cmp"}, "transform": [{"filter": "datum.p == 'e2'"}], "mark": {"type": "area", "interpolate": "monotone", "opacity": 0.15}, "encoding": {"detail": {"field": "c"}, "fill": {"field": "k", "legend": null}}},
  {"data": {"name": "cmp"}, "transform": [{"filter": "datum.p == 'e2'"}], "mark": {"type": "line", "interpolate": "monotone", "strokeWidth": 0.8}, "encoding": {"detail": {"field": "c"}, "stroke": {"field": "k", "legend": null}}},
  {"data": {"name": "env"}, "transform": [{"filter": "datum.p == 'e2'"}], "mark": {"type": "line", "interpolate": "monotone", "color": "#000", "strokeWidth": 1.6, "point": {"filled": true, "shape": "square", "size": 7, "color": "#000"}}, "encoding": {}},
  {"data": {"name": "ld"}, "transform": [{"filter": "datum.p == 'e2'"}], "mark": {"type": "rule", "strokeWidth": 0.6, "color": "#000"}, "encoding": {"x2": {"field": "x2"}, "y2": {"field": "y2"}}},
  {"data": {"name": "lab"}, "transform": [{"filter": "datum.p == 'e2'"}], "mark": {"type": "text", "fontSize": 8, "color": "#333"}, "encoding": {"text": {"field": "t"}}},
  {"data": {"name": "ttl"}, "transform": [{"filter": "datum.p == 'e2'"}], "mark": {"type": "text", "fontSize": 8.5, "fontWeight": "bold", "align": "right", "dx": -3, "color": "#000"}, "encoding": {"text": {"field": "t"}}}
 ]}
], "spacing": 79, "bounds": "flush"}
],
"config": {
 "view": {"stroke": "#000", "strokeWidth": 1},
 "axisX": {"labelFont": "Liberation Sans", "labelFontSize": 8, "labelColor": "#000", "labelPadding": 0, "labelFlush": false, "labelOverlap": false, "labelExpr": "datum.value % 2 == 0 ? datum.label : ''", "tickSize": 3, "tickColor": "#000", "domainColor": "#000", "grid": false, "titleFont": "Liberation Sans", "titleFontSize": 9, "titleFontWeight": "normal", "titlePadding": 0, "titleColor": "#000"},
 "title": {"font": "Liberation Serif", "fontSize": 13, "fontWeight": "bold", "anchor": "start", "frame": "group", "offset": 6, "color": "#000"},
 "text": {"font": "Liberation Sans"}
}
}
